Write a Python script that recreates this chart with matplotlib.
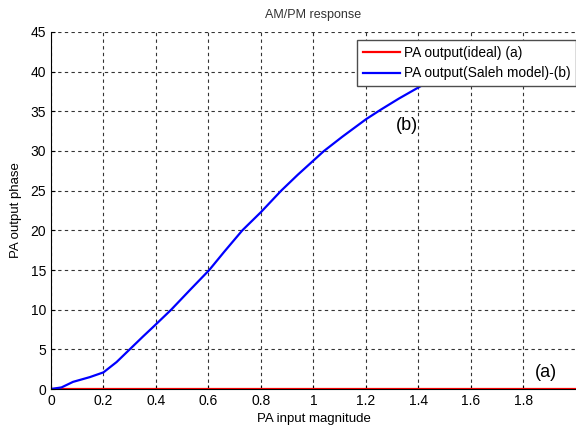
import numpy as np
import matplotlib.pyplot as plt

plt.rcParams['font.family'] = ['Liberation Sans', 'DejaVu Sans']

# ideal PA: no phase distortion
ideal_x = [0.0, 2.0]
ideal_y = [0.0, 0.0]

# Saleh model AM/PM
saleh_x = [0.0, 0.04, 0.084, 0.148, 0.2, 0.25, 0.30, 0.35, 0.395, 0.458, 0.53,
           0.603, 0.66, 0.729, 0.80, 0.877, 0.94, 1.0, 1.04, 1.11, 1.2,
           1.256, 1.325, 1.41, 1.5, 1.6]
saleh_y = [0.0, 0.2, 0.9, 1.5, 2.1, 3.4, 5.0, 6.6, 8.0, 10.0, 12.5,
           15.0, 17.3, 20.0, 22.3, 25.0, 27.0, 28.8, 30.0, 31.8, 34.0,
           35.2, 36.6, 38.2, 39.8, 41.4]

fig = plt.figure(figsize=(5.76, 4.32), dpi=100)
ax = fig.add_axes([0.0885, 0.0995, 0.9115, 0.8265])

ax.plot(ideal_x, ideal_y, color='red', lw=1.6, label='PA output(ideal) (a)')
ax.plot(saleh_x, saleh_y, color='blue', lw=1.6, label='PA output(Saleh model)-(b)')

ax.set_xlim(0, 2)
ax.set_ylim(0, 45)
ax.set_xticks(np.arange(0, 2.0, 0.2))
ax.set_xticklabels(['0', '0.2', '0.4', '0.6', '0.8', '1', '1.2', '1.4', '1.6', '1.8'])
ax.set_yticks(np.arange(0, 46, 5))
ax.tick_params(direction='in', labelsize=10, length=3)
ax.grid(True, color='0.2', linestyle=(0, (3, 3)), lw=0.8)
ax.spines['top'].set_visible(False)
ax.spines['right'].set_visible(False)

ax.set_title('AM/PM response', fontsize=9, color='0.2', pad=10)
ax.set_xlabel('PA input magnitude', fontsize=9.5)
ax.set_ylabel('PA output phase', fontsize=9.5, labelpad=6)

ax.text(1.355, 33.2, '(b)', fontsize=13, ha='center', va='center')
ax.text(1.886, 2.1, '(a)', fontsize=13, ha='center', va='center')

leg = ax.legend(loc='upper right', bbox_to_anchor=(1.0, 1 - 40 / 432),
                bbox_transform=fig.transFigure, borderaxespad=0,
                fontsize=9.9, fancybox=False, framealpha=1, edgecolor='0.3',
                handlelength=2.7, handletextpad=0.3)
leg.get_frame().set_linewidth(1.0)

fig.savefig('out.png', dpi=100)
